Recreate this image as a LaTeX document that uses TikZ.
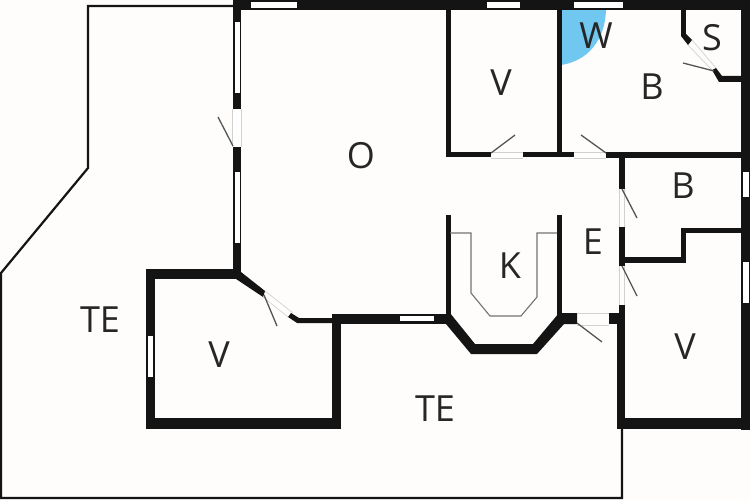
\documentclass[tikz,border=0pt]{standalone}
\usepackage{fontspec}
\setmainfont{Open Sans}
\definecolor{wallc}{HTML}{141414}
\definecolor{paper}{HTML}{FEFDFB}
\definecolor{leafc}{HTML}{555555}
\definecolor{wetc}{HTML}{70C8F0}
\tikzset{
  wall/.style={fill=wallc,draw=none},
  win/.style={fill=white,draw=none},
  gapc/.style={fill=white,draw=none},
  jamb/.style={draw=black!18,line width=0.7pt},
  leaf/.style={draw=leafc,line width=1.3pt},
  counter/.style={draw=black!55,line width=1.1pt},
  outline/.style={draw=wallc,line width=2.2pt},
  lab/.style={font=\fontsize{36}{36}\selectfont,text=black!85,inner sep=0pt}
}
\begin{document}
\begin{tikzpicture}[x=1pt,y=-1pt]
\useasboundingbox (0,0) rectangle (750,500);
\fill[paper] (0,0) rectangle (750,500);
% terrace outline
\draw[outline] (234,6) -- (88,6) -- (88,168) -- (1,273) -- (1,498) -- (622,498) -- (622,425);
% wet zone
\fill[wetc] (561,10) -- (606,10) .. controls (605,40) and (588,61) .. (561,65) -- cycle;
% outer walls
\fill[wall] (233,0) rectangle (750,10);
\fill[wall] (741,0) rectangle (750,430);
\fill[wall] (233,0) rectangle (241,275);
\fill[wall] (146,269) rectangle (241,279);
\fill[wall] (146,269) rectangle (155,429);
\fill[wall] (146,418) rectangle (341,429);
\fill[wall] (332,314) rectangle (341,429);
\fill[wall] (332,314) rectangle (447,324);
\fill[wall] (617,313) rectangle (625,429);
\fill[wall] (617,418) rectangle (750,429);
% diagonal walls by room V
\fill[wall] (236,272) -- (241,272) -- (265,291) -- (263,297) -- (236,279) -- cycle;
\fill[wall] (291,313) -- (299,318) -- (333,318) -- (333,323) -- (297,323) -- (288,317) -- cycle;
% kitchen
\fill[wall] (445.5,215) rectangle (450.5,316);
\fill[wall] (556.5,215) rectangle (562,316);
\fill[wall] (446,313) -- (450,313) -- (475,344) -- (533,344) -- (559,313) -- (577,313) -- (577,324) -- (564,324) -- (537,354) -- (471,354) -- (446,324) -- cycle;
\fill[wall] (609,313) rectangle (620,324);
\fill[wall] (619,305) rectangle (624.5,315);
% upper inner walls
\fill[wall] (445.5,10) rectangle (450.5,157.5);
\fill[wall] (556.5,10) rectangle (561.5,157.5);
\fill[wall] (445.5,152) rectangle (491,157.5);
\fill[wall] (523,152) rectangle (574,157.5);
\fill[wall] (606,152.5) rectangle (741,158);
% S walls
\fill[wall] (681,10) rectangle (686,36);
\fill[wall] (681,36) -- (686,34) -- (692,40) -- (688,45) -- cycle;
\fill[wall] (712,70) -- (716,68) -- (722,76) -- (741,76) -- (741,82) -- (719,82) -- cycle;
% B/E walls
\fill[wall] (619,155) rectangle (624.5,189);
\fill[wall] (619,227) rectangle (624.5,266);
\fill[wall] (624,256.5) rectangle (685.5,262.5);
\fill[wall] (680.5,228) rectangle (685.5,262.5);
\fill[wall] (680.5,227.5) rectangle (741,233);
% windows
\fill[win] (251,2) rectangle (297,8);
\fill[win] (487,2) rectangle (520,8);
\fill[win] (574,2) rectangle (623,8);
\fill[win] (743,172) rectangle (749,197);
\fill[win] (743,262) rectangle (749,303);
\fill[win] (234.5,22) rectangle (240,93);
\fill[win] (234.5,172) rectangle (240,243);
\fill[gapc] (232,109) rectangle (242,147);
\fill[win] (147.5,336) rectangle (152.5,377);
\fill[win] (400,316) rectangle (434,321);
% door jambs
\draw[jamb] (232,109) -- (232,147) (241.5,109) -- (241.5,147);
\draw[jamb] (491,152) -- (523,152) (491,158) -- (523,158);
\draw[jamb] (574,152) -- (606,152) (574,158) -- (606,158);
\draw[jamb] (619.5,189) -- (619.5,227) (624,189) -- (624,227);
\draw[jamb] (619.5,266) -- (619.5,305) (624,266) -- (624,305);
\draw[jamb] (577,313) -- (609,313) (577,325) -- (609,325);
\draw[jamb] (265,291) -- (293,313) (263,297) -- (288,317);
\draw[jamb] (692,40) -- (716,68) (688,45) -- (712,70);
% door leaves
\draw[leaf] (233,146) -- (218,117);
\draw[leaf] (491,153) -- (515,135);
\draw[leaf] (606,153) -- (581,135);
\draw[leaf] (714,71) -- (683,63);
\draw[leaf] (622,189) -- (637,218);
\draw[leaf] (622,266) -- (637,296);
\draw[leaf] (577,323) -- (602,342);
\draw[leaf] (264,295) -- (277,326);
% kitchen counter
\draw[counter] (450,233) -- (471,233) -- (471,293) -- (490,316) -- (521,316) -- (537,297) -- (537,233) -- (557,233);
% labels
\node[lab] (lo) at (361,156) {O};
\node[lab] (lv1) at (501,83) {V};
\node[lab] (lw) at (596,36) {W};
\node[lab] (ls) at (712,38) {S};
\node[lab] (lb1) at (652,87) {B};
\node[lab] (lb2) at (683,186) {B};
\node[lab] (lk) at (510,266) {K};
\node[lab] (le) at (593,242) {E};
\node[lab] (lv2) at (685,347) {V};
\node[lab] (lv3) at (219,355) {V};
\node[lab] (lt1) at (100,320) {TE};
\node[lab] (lt2) at (435,409) {TE};
\end{tikzpicture}
\end{document}
